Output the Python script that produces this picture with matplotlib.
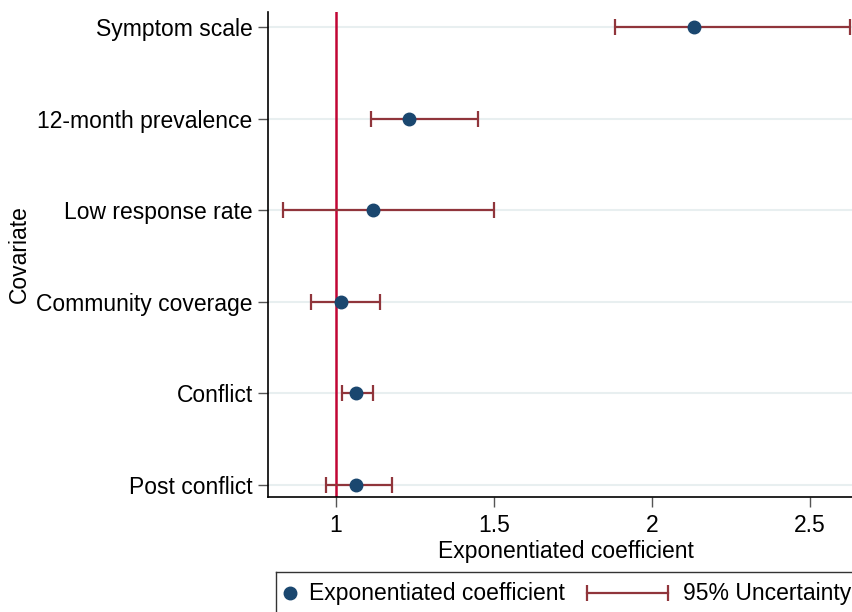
import matplotlib
matplotlib.use("Agg")
import matplotlib.pyplot as plt

plt.rcParams["font.family"] = ["Liberation Sans", "DejaVu Sans"]

# ─── DATA ───

covariates = ["Post conflict", "Conflict", "Community coverage",
              "Low response rate", "12-month prevalence", "Symptom scale"]
estimate = [1.065, 1.065, 1.016, 1.117, 1.231, 2.133]
ci_low = [0.968, 1.019, 0.921, 0.832, 1.111, 1.883]
ci_high = [1.177, 1.117, 1.139, 1.500, 1.449, 2.627]
x_ticks = [1, 1.5, 2, 2.5]
x_ticklabels = ["1", "1.5", "2", "2.5"]

NAVY = "#1a476f"
MAROON = "#90353b"
CRANBERRY = "#c10534"
GRID = "#e8eff0"

W, H = 853, 612
FS = 16.5

fig = plt.figure(figsize=(W / 100, H / 100), dpi=100)
ax = fig.add_axes([268 / W, (H - 497) / H, (W - 268) / W, (497 - 12) / H])

ypos = list(range(len(covariates)))

for y in ypos:
    ax.axhline(y, color=GRID, linewidth=1.5, zorder=0)

ax.axvline(1, color=CRANBERRY, linewidth=1.8, zorder=1)

ax.errorbar(estimate, ypos,
            xerr=[[e - l for e, l in zip(estimate, ci_low)],
                  [h - e for e, h in zip(estimate, ci_high)]],
            fmt="none", ecolor=MAROON, elinewidth=1.6, capsize=6, capthick=1.6, zorder=2)
ax.plot(estimate, ypos, "o", color=NAVY, markersize=9, zorder=3)

ax.set_xlim(0.785, 2.636)
ax.set_ylim(-0.131, 5.164)
ax.set_yticks(ypos)
ax.set_yticklabels(covariates, fontsize=FS)
ax.set_xticks(x_ticks)
ax.set_xticklabels(x_ticklabels, fontsize=FS)
ax.tick_params(axis="y", length=7, width=1, color="#555555", pad=4)
ax.tick_params(axis="x", length=7, width=1, color="#555555", pad=5)

ax.spines[["top", "right"]].set_visible(False)
ax.spines["left"].set_linewidth(1.2)
ax.spines["bottom"].set_linewidth(1.2)

ax.set_xlabel("Exponentiated coefficient", fontsize=FS)
ax.xaxis.set_label_coords(0.509, -0.089)
ax.set_ylabel("Covariate", fontsize=FS)
ax.yaxis.set_label_coords(-0.405, 0.5)

# legend box drawn in pixel coordinates
lax = fig.add_axes([276 / W, -0.05, 1 - 276 / W + 0.05, (H - 572) / H + 0.05])
lax.set_xlim(276, W + 0.05 * W)
lax.set_ylim(H + 0.05 * H, 572)
lax.set_xticks([])
lax.set_yticks([])
for s in lax.spines.values():
    s.set_linewidth(1.0)
    s.set_color("#333333")
lax.plot([290], [593], "o", color=NAVY, markersize=9)
lax.text(309, 593, "Exponentiated coefficient", fontsize=FS, va="center", ha="left")
lax.plot([587, 668], [593, 593], color=MAROON, linewidth=1.6)
lax.plot([587, 668], [593, 593], "|", color=MAROON, markersize=12, markeredgewidth=1.6)
lax.text(683, 593, "95% Uncertainty", fontsize=FS, va="center", ha="left")

plt.savefig("out.png", dpi=100)
